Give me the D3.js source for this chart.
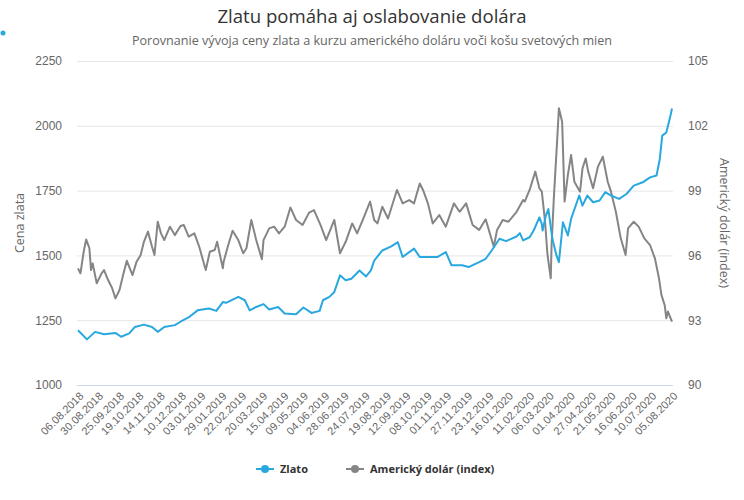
<!DOCTYPE html>
<html>
<head>
<meta charset="utf-8">
<script src="https://cdn.jsdelivr.net/npm/d3@7"></script>
<style>
  body { margin: 0; background: #fff; }
  svg { font-family: "Open Sans", "DejaVu Sans", sans-serif; }
</style>
</head>
<body>
<div id="chart"></div>
<script>
// Gold price vs. US dollar index, Aug 2018 – Aug 2020 (dual axis line chart)

const TITLE    = "Zlatu pomáha aj oslabovanie dolára";
const SUBTITLE = "Porovnanie vývoja ceny zlata a kurzu amerického doláru voči košu svetových mien";

const GOLD_TICKS = [1000, 1250, 1500, 1750, 2000, 2250];
const USD_TICKS  = [90, 93, 96, 99, 102, 105];

const DATE_TICKS = [
  "06.08.2018", "30.08.2018", "25.09.2018", "19.10.2018", "14.11.2018", "10.12.2018",
  "03.01.2019", "29.01.2019", "22.02.2019", "20.03.2019", "15.04.2019", "09.05.2019",
  "04.06.2019", "28.06.2019", "24.07.2019", "19.08.2019", "12.09.2019", "08.10.2019",
  "01.11.2019", "27.11.2019", "23.12.2019", "16.01.2020", "11.02.2020", "06.03.2020",
  "01.04.2020", "27.04.2020", "21.05.2020", "16.06.2020", "10.07.2020", "05.08.2020"
];

// Zlato (USD / oz)
const GOLD = [
  ["2018-08-06", 1211], ["2018-08-17", 1176], ["2018-08-27", 1205], ["2018-09-07", 1196],
  ["2018-09-21", 1201], ["2018-09-28", 1186], ["2018-10-08", 1199], ["2018-10-15", 1224],
  ["2018-10-26", 1233], ["2018-11-05", 1224], ["2018-11-12", 1205], ["2018-11-20", 1224],
  ["2018-12-03", 1231], ["2018-12-11", 1246], ["2018-12-21", 1263], ["2018-12-31", 1288],
  ["2019-01-14", 1295], ["2019-01-23", 1286], ["2019-01-31", 1320], ["2019-02-04", 1317],
  ["2019-02-19", 1340], ["2019-02-27", 1327], ["2019-03-05", 1288], ["2019-03-13", 1301],
  ["2019-03-22", 1312], ["2019-03-29", 1291], ["2019-04-09", 1301], ["2019-04-17", 1276],
  ["2019-05-01", 1273], ["2019-05-10", 1299], ["2019-05-20", 1278], ["2019-05-30", 1286],
  ["2019-06-03", 1327], ["2019-06-11", 1340], ["2019-06-17", 1359], ["2019-06-24", 1423],
  ["2019-07-01", 1404], ["2019-07-08", 1410], ["2019-07-18", 1442], ["2019-07-26", 1419],
  ["2019-08-01", 1442], ["2019-08-05", 1480], ["2019-08-15", 1519], ["2019-08-26", 1535],
  ["2019-09-03", 1551], ["2019-09-09", 1494], ["2019-09-23", 1526], ["2019-09-30", 1494],
  ["2019-10-11", 1494], ["2019-10-22", 1494], ["2019-11-01", 1513], ["2019-11-08", 1462],
  ["2019-11-21", 1462], ["2019-11-29", 1455], ["2019-12-12", 1474], ["2019-12-20", 1487],
  ["2019-12-27", 1517], ["2020-01-06", 1564], ["2020-01-14", 1555], ["2020-01-27", 1573],
  ["2020-01-31", 1586], ["2020-02-04", 1558], ["2020-02-12", 1570], ["2020-02-17", 1596],
  ["2020-02-24", 1647], ["2020-02-27", 1622], ["2020-02-28", 1596], ["2020-03-03", 1654],
  ["2020-03-06", 1679], ["2020-03-11", 1564], ["2020-03-16", 1500], ["2020-03-19", 1474],
  ["2020-03-24", 1628], ["2020-03-30", 1577], ["2020-04-03", 1641], ["2020-04-13", 1731],
  ["2020-04-17", 1692], ["2020-04-23", 1731], ["2020-04-30", 1705], ["2020-05-08", 1712],
  ["2020-05-15", 1744], ["2020-05-22", 1731], ["2020-06-01", 1718], ["2020-06-10", 1737],
  ["2020-06-19", 1769], ["2020-06-30", 1782], ["2020-07-09", 1801], ["2020-07-17", 1808],
  ["2020-07-21", 1872], ["2020-07-24", 1962], ["2020-07-29", 1974], ["2020-08-03", 2038],
  ["2020-08-05", 2067]
];

// Americký dolár (index)
const USD = [
  ["2018-08-06", 95.40], ["2018-08-09", 95.17], ["2018-08-13", 96.17], ["2018-08-16", 96.74],
  ["2018-08-20", 96.33], ["2018-08-22", 95.32], ["2018-08-24", 95.63], ["2018-08-29", 94.71],
  ["2018-09-04", 95.17], ["2018-09-07", 95.32], ["2018-09-12", 94.86], ["2018-09-17", 94.48],
  ["2018-09-21", 94.01], ["2018-09-26", 94.40], ["2018-10-01", 95.17], ["2018-10-05", 95.75],
  ["2018-10-12", 95.09], ["2018-10-17", 95.71], ["2018-10-22", 96.02], ["2018-10-26", 96.63],
  ["2018-10-31", 97.10], ["2018-11-05", 96.40], ["2018-11-08", 96.02], ["2018-11-12", 97.56],
  ["2018-11-16", 97.02], ["2018-11-20", 96.71], ["2018-11-27", 97.33], ["2018-12-03", 96.94],
  ["2018-12-10", 97.36], ["2018-12-14", 97.41], ["2018-12-20", 96.87], ["2018-12-27", 97.02],
  ["2019-01-02", 96.40], ["2019-01-10", 95.32], ["2019-01-15", 96.17], ["2019-01-21", 96.25],
  ["2019-01-24", 96.63], ["2019-01-31", 95.40], ["2019-02-01", 95.71], ["2019-02-06", 96.40],
  ["2019-02-12", 97.14], ["2019-02-19", 96.71], ["2019-02-25", 96.10], ["2019-03-01", 96.33],
  ["2019-03-07", 97.64], ["2019-03-13", 96.71], ["2019-03-20", 95.82], ["2019-03-22", 96.71],
  ["2019-03-29", 97.25], ["2019-04-04", 97.33], ["2019-04-10", 97.02], ["2019-04-17", 97.33],
  ["2019-04-24", 98.22], ["2019-05-01", 97.64], ["2019-05-09", 97.41], ["2019-05-17", 97.98],
  ["2019-05-23", 98.10], ["2019-05-31", 97.41], ["2019-06-07", 96.71], ["2019-06-17", 97.64],
  ["2019-06-24", 96.10], ["2019-07-01", 96.63], ["2019-07-09", 97.48], ["2019-07-15", 97.02],
  ["2019-07-22", 97.64], ["2019-07-31", 98.49], ["2019-08-05", 97.64], ["2019-08-09", 97.48],
  ["2019-08-15", 98.25], ["2019-08-22", 97.71], ["2019-09-02", 99.03], ["2019-09-09", 98.41],
  ["2019-09-17", 98.56], ["2019-09-23", 98.41], ["2019-09-30", 99.33], ["2019-10-04", 99.03],
  ["2019-10-10", 98.41], ["2019-10-16", 97.48], ["2019-10-24", 97.87], ["2019-11-01", 97.33],
  ["2019-11-11", 98.41], ["2019-11-18", 98.02], ["2019-11-26", 98.41], ["2019-12-04", 97.41],
  ["2019-12-12", 97.18], ["2019-12-20", 97.67], ["2019-12-30", 96.40], ["2020-01-03", 97.18],
  ["2020-01-10", 97.64], ["2020-01-17", 97.56], ["2020-01-27", 98.02], ["2020-02-04", 98.56],
  ["2020-02-06", 98.49], ["2020-02-12", 99.03], ["2020-02-19", 99.88], ["2020-02-24", 99.11],
  ["2020-02-27", 98.95], ["2020-03-02", 97.56], ["2020-03-05", 96.02], ["2020-03-09", 94.94],
  ["2020-03-10", 96.48], ["2020-03-13", 98.80], ["2020-03-17", 101.42], ["2020-03-19", 102.81],
  ["2020-03-23", 102.19], ["2020-03-26", 98.49], ["2020-03-30", 99.72], ["2020-04-03", 100.65],
  ["2020-04-07", 99.41], ["2020-04-14", 98.95], ["2020-04-17", 100.03], ["2020-04-21", 100.49],
  ["2020-04-24", 99.88], ["2020-04-30", 99.11], ["2020-05-06", 100.11], ["2020-05-12", 100.57],
  ["2020-05-18", 99.41], ["2020-05-22", 98.95], ["2020-05-28", 98.02], ["2020-06-03", 96.79],
  ["2020-06-09", 96.02], ["2020-06-12", 97.25], ["2020-06-19", 97.56], ["2020-06-25", 97.33],
  ["2020-07-02", 96.79], ["2020-07-09", 96.48], ["2020-07-15", 95.86], ["2020-07-20", 94.94],
  ["2020-07-23", 94.17], ["2020-07-27", 93.70], ["2020-07-29", 93.09], ["2020-07-31", 93.40],
  ["2020-08-05", 92.93]
];

const GOLD_COLOR = "#29a8e0";
const USD_COLOR  = "#858585";

// ── Setup ────────────────────────────────────────────────────────────────────

const W = 744, H = 500;
const plot = { left: 77, right: 673, top: 61, bottom: 385 };

const parseIso = d3.timeParse("%Y-%m-%d");
const parseDmy = d3.timeParse("%d.%m.%Y");

const gold = GOLD.map(([d, v]) => ({ date: parseIso(d), value: v }));
const usd  = USD.map(([d, v]) => ({ date: parseIso(d), value: v }));

const svg = d3.select("#chart").append("svg")
  .attr("width", W)
  .attr("height", H);

const x = d3.scaleTime()
  .domain([parseDmy(DATE_TICKS[0]), parseDmy(DATE_TICKS[DATE_TICKS.length - 1])])
  .range([plot.left + 1, plot.right - 1]);

const yGold = d3.scaleLinear()
  .domain([GOLD_TICKS[0], GOLD_TICKS[GOLD_TICKS.length - 1]])
  .range([plot.bottom, plot.top]);

const yUsd = d3.scaleLinear()
  .domain([USD_TICKS[0], USD_TICKS[USD_TICKS.length - 1]])
  .range([plot.bottom, plot.top]);

// ── Titles ───────────────────────────────────────────────────────────────────

svg.append("text")
  .attr("x", W / 2).attr("y", 23)
  .attr("text-anchor", "middle")
  .style("font-size", "18.6px")
  .style("fill", "#333")
  .text(TITLE);

svg.append("text")
  .attr("x", W / 2).attr("y", 45)
  .attr("text-anchor", "middle")
  .style("font-size", "12.6px")
  .style("fill", "#666")
  .text(SUBTITLE);

svg.append("circle")
  .attr("cx", 3).attr("cy", 33).attr("r", 2.5)
  .attr("fill", GOLD_COLOR);

// ── Grid + axes ──────────────────────────────────────────────────────────────

svg.append("g")
  .attr("transform", `translate(${plot.left},0)`)
  .call(d3.axisLeft(yGold).tickValues(GOLD_TICKS).tickFormat(d3.format("d"))
    .tickSize(0).tickPadding(15))
  .call(ax => ax.select(".domain").remove())
  .call(ax => ax.selectAll(".tick line").clone()
    .attr("x2", plot.right - plot.left)
    .attr("stroke", d => d === GOLD_TICKS[0] ? "#ccd6eb" : "#e6e6e6"))
  .selectAll("text")
    .style("font-size", "12px")
    .style("fill", "#666")
    .style("font-family", "inherit");

svg.append("g")
  .attr("transform", `translate(${plot.right},0)`)
  .call(d3.axisRight(yUsd).tickValues(USD_TICKS).tickSize(0).tickPadding(15))
  .call(ax => ax.select(".domain").remove())
  .selectAll("text")
    .style("font-size", "12px")
    .style("fill", "#666")
    .style("font-family", "inherit");

svg.append("text")
  .attr("transform", `translate(24,${(plot.top + plot.bottom) / 2}) rotate(-90)`)
  .attr("text-anchor", "middle")
  .style("font-size", "12.5px")
  .style("fill", "#666")
  .text("Cena zlata");

svg.append("text")
  .attr("transform", `translate(720,${(plot.top + plot.bottom) / 2}) rotate(90)`)
  .attr("text-anchor", "middle")
  .style("font-size", "12.5px")
  .style("fill", "#666")
  .text("Americký dolár (index)");

// x labels, rotated
const xAxis = svg.append("g")
  .attr("transform", `translate(0,${plot.bottom})`)
  .call(d3.axisBottom(x)
    .tickValues(DATE_TICKS.map(parseDmy))
    .tickFormat(d3.timeFormat("%d.%m.%Y"))
    .tickSize(0));
xAxis.select(".domain").remove();
xAxis.selectAll("text")
  .attr("text-anchor", "end")
  .attr("transform", "translate(3,9) rotate(-45)")
  .attr("y", 0).attr("dy", "0.35em")
  .style("font-size", "11px")
  .style("fill", "#666")
  .style("font-family", "inherit");

// ── Lines ────────────────────────────────────────────────────────────────────

svg.append("path")
  .datum(usd)
  .attr("fill", "none")
  .attr("stroke", USD_COLOR)
  .attr("stroke-width", 2)
  .attr("stroke-linejoin", "round")
  .attr("d", d3.line().x(d => x(d.date)).y(d => yUsd(d.value)));

svg.append("path")
  .datum(gold)
  .attr("fill", "none")
  .attr("stroke", GOLD_COLOR)
  .attr("stroke-width", 2)
  .attr("stroke-linejoin", "round")
  .attr("d", d3.line().x(d => x(d.date)).y(d => yGold(d.value)));

// ── Legend ───────────────────────────────────────────────────────────────────

const legend = [
  { label: "Zlato", color: GOLD_COLOR, x: 256 },
  { label: "Americký dolár (index)", color: USD_COLOR, x: 346 }
];

legend.forEach(({ label, color, x: lx }) => {
  const lg = svg.append("g").attr("transform", `translate(${lx},469)`);
  lg.append("line")
    .attr("x1", 0).attr("x2", 18)
    .attr("stroke", color).attr("stroke-width", 2);
  lg.append("circle")
    .attr("cx", 9).attr("r", 4)
    .attr("fill", color);
  lg.append("text")
    .attr("x", 24).attr("dy", "0.35em")
    .style("font-size", "11px")
    .style("font-weight", "bold")
    .style("fill", "#333")
    .text(label);
});
</script>
</body>
</html>
